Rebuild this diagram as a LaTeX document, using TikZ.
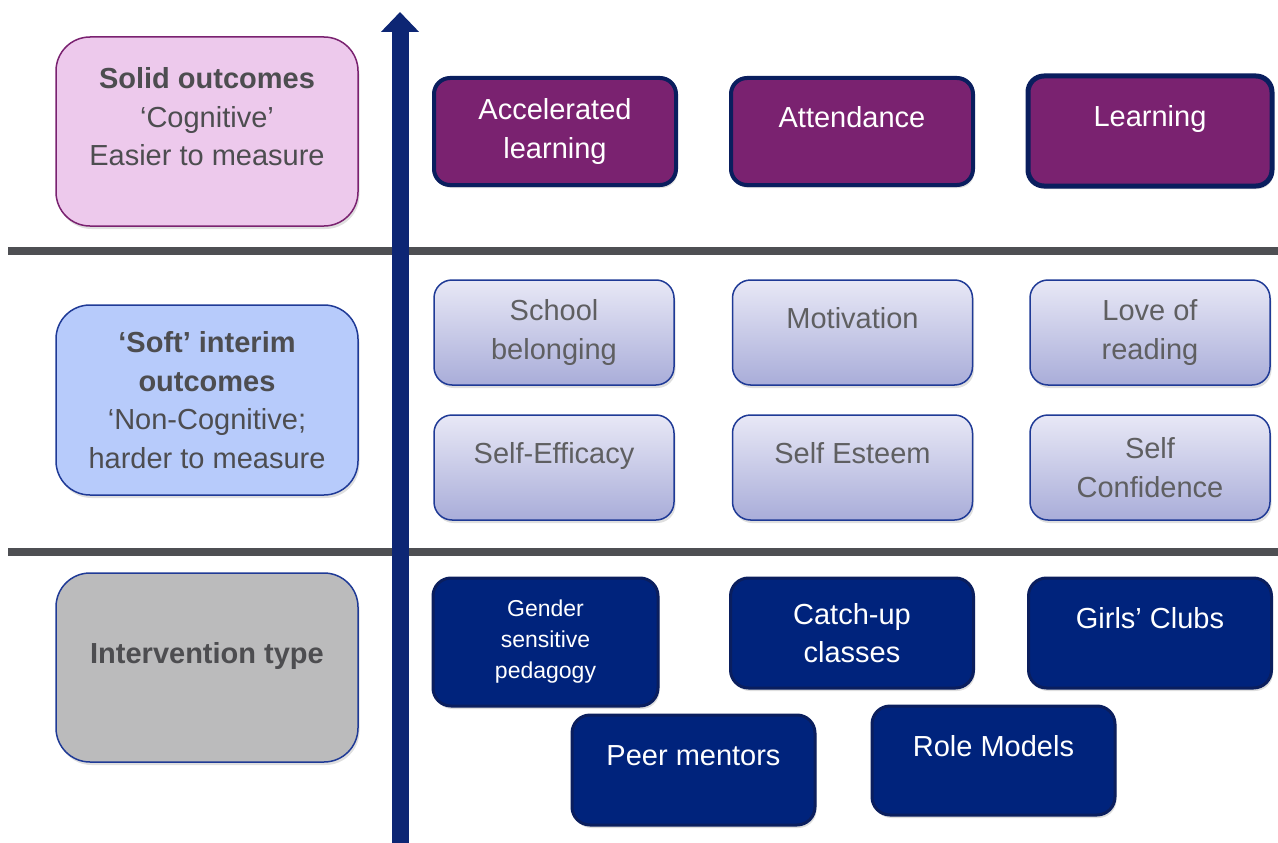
\documentclass[tikz,border=0pt]{standalone}
\usepackage{fontspec}
\setmainfont{Liberation Sans}
\usetikzlibrary{shapes.geometric, arrows.meta, shadows}
\definecolor{plum}{HTML}{7A2270}
\definecolor{pinkfill}{HTML}{EDC9EC}
\definecolor{softblue}{HTML}{B7CBFB}
\definecolor{typegrey}{HTML}{BBBBBC}
\definecolor{edgenavy}{HTML}{1F3A96}
\definecolor{deepnavy}{HTML}{0A1E5E}
\definecolor{boxnavy}{HTML}{00237C}
\definecolor{axisnavy}{HTML}{0D2674}
\definecolor{lavtop}{HTML}{E8E8F6}
\definecolor{lavbot}{HTML}{A9ADD9}
\definecolor{labelgrey}{HTML}{4D4D50}
\definecolor{bargrey}{HTML}{4E4F53}
\tikzstyle{bigtext} = [font=\fontsize{29}{38.5}\selectfont]
\tikzstyle{shade} = [drop shadow={opacity=0.25, shadow xshift=1.5pt, shadow yshift=-3pt}]
\tikzstyle{leftbox} = [rectangle, rounded corners=34pt, minimum width=302pt, minimum height=189pt, align=center, line width=1.5pt, text=labelgrey, bigtext, shade]
\tikzstyle{outcome} = [rectangle, rounded corners=16pt, minimum width=242pt, minimum height=107pt, align=center, fill=plum, draw=deepnavy, line width=4pt, text=white, bigtext, shade]
\tikzstyle{interim} = [rectangle, rounded corners=18pt, minimum width=240pt, minimum height=105pt, align=center, top color=lavtop, bottom color=lavbot, draw=edgenavy, line width=1.5pt, text=labelgrey!90, bigtext, shade]
\tikzstyle{intervention} = [rectangle, rounded corners=18pt, minimum width=243pt, minimum height=110pt, align=center, fill=boxnavy, draw=deepnavy, line width=3pt, text=white, bigtext, shade]
\tikzstyle{oneline} = [text height=21pt, text depth=30pt]
\tikzstyle{bar} = [draw=bargrey, line width=8pt]
\tikzstyle{axis} = [draw=axisnavy, line width=17pt, -{Triangle[width=37pt, length=20pt]}]

\begin{document}
\begin{tikzpicture}[x=1pt, y=-1pt]
    \useasboundingbox (0,0) rectangle (1278,843);

    % row dividers and the axis
    \coordinate (bar1l) at (8,251);
    \coordinate (bar1r) at (1278,251);
    \coordinate (bar2l) at (8,552);
    \coordinate (bar2r) at (1278,552);
    \coordinate (axisbot) at (400,843);
    \coordinate (axistop) at (400,12);
    \draw [bar] (bar1l) -- (bar1r);
    \draw [bar] (bar2l) -- (bar2r);
    \draw [axis] (axisbot) -- (axistop);

    % row headings
    \node (cog) [leftbox, fill=pinkfill, draw=plum] at (207,131.5) {\textbf{Solid outcomes}\\`Cognitive'\\Easier to measure\\[-9pt]\mbox{}};
    \node (soft) [leftbox, fill=softblue, draw=edgenavy, minimum height=190pt] at (207,400) {\textbf{`Soft' interim}\\\textbf{outcomes}\\`Non-Cognitive;\\harder to measure};
    \node (type) [leftbox, fill=typegrey, draw=edgenavy, oneline] at (207,667.5) {\textbf{Intervention type}};

    % solid outcomes
    \node (accel) [outcome] at (555,131.5) {Accelerated\\learning};
    \node (attend) [outcome, oneline] at (852,131.5) {Attendance};
    \node (learn) [outcome, oneline, line width=5pt, minimum width=244pt, minimum height=110pt] at (1150,131) {Learning};

    % interim outcomes
    \node (school) [interim] at (554,332.5) {School\\belonging};
    \node (motiv) [interim, oneline] at (852.5,332.5) {Motivation};
    \node (love) [interim] at (1150,332.5) {Love of\\reading};
    \node (efficacy) [interim, oneline] at (554,467.5) {Self-Efficacy};
    \node (esteem) [interim, oneline] at (852.5,467.5) {Self Esteem};
    \node (confid) [interim] at (1150,467.5) {Self\\Confidence};

    % interventions
    \node (gender) [intervention, minimum width=225pt, minimum height=128pt, font=\fontsize{23}{31}\selectfont] at (545.5,642) {Gender\\sensitive\\pedagogy};
    \node (catchup) [intervention] at (852,633) {Catch-up\\classes};
    \node (girls) [intervention, oneline] at (1150,633) {Girls' Clubs};
    \node (peer) [intervention, oneline] at (693.5,770) {Peer mentors};
    \node (role) [intervention, oneline, minimum height=109pt] at (993.5,760.5) {Role Models};
\end{tikzpicture}
\end{document}
